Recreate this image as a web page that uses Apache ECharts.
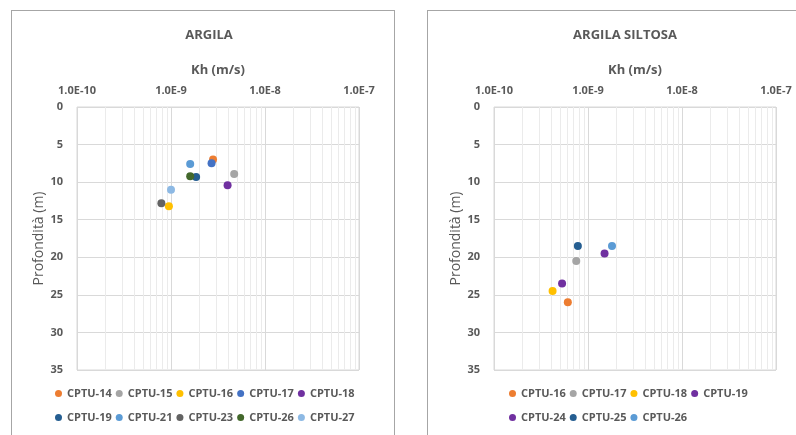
<!DOCTYPE html>
<html>
<head>
<meta charset="utf-8">
<script src="https://cdn.jsdelivr.net/npm/echarts@6/dist/echarts.min.js"></script>
<style>
  html, body { margin: 0; padding: 0; background: #fff; }
  body { width: 796px; height: 435px; position: relative; overflow: hidden; }
  .panel { position: absolute; top: 10px; height: 440px; border: 1px solid #a6a6a6; box-sizing: border-box; }
  .chart { position: absolute; top: 0; width: 398px; height: 435px; }
</style>
</head>
<body>
<div class="panel" style="left:11px; width:384px;"></div>
<div class="panel" style="left:427px; width:390px;"></div>
<div id="left" class="chart" style="left:0;"></div>
<div id="right" class="chart" style="left:398px;"></div>
<script>
// ARGILA
const leftNames = ['CPTU-14', 'CPTU-15', 'CPTU-16', 'CPTU-17', 'CPTU-18', 'CPTU-19', 'CPTU-21', 'CPTU-23', 'CPTU-26', 'CPTU-27'];
const leftColors = ['#ED7D31', '#A5A5A5', '#FFC000', '#4472C4', '#7030A0', '#255E91', '#5B9BD5', '#636363', '#43682B', '#8DB9E4'];
const leftKh = [2.8e-9, 4.7e-9, 9.5e-10, 2.7e-9, 4.0e-9, 1.85e-9, 1.6e-9, 7.9e-10, 1.6e-9, 1.0e-9];
const leftDepth = [7.0, 8.9, 13.2, 7.5, 10.4, 9.3, 7.6, 12.8, 9.2, 11.0];

// ARGILA SILTOSA
const rightNames = ['CPTU-16', 'CPTU-17', 'CPTU-18', 'CPTU-19', 'CPTU-24', 'CPTU-25', 'CPTU-26'];
const rightColors = ['#ED7D31', '#A5A5A5', '#FFC000', '#7030A0', '#7030A0', '#255E91', '#5B9BD5'];
const rightKh = [6.1e-10, 7.5e-10, 4.2e-10, 1.5e-9, 5.3e-10, 7.8e-10, 1.8e-9];
const rightDepth = [26.0, 20.5, 24.5, 19.5, 23.5, 18.5, 18.5];

// griglia secondaria log (2..9 per decade)
const minorKh = [];
[1e-10, 1e-9, 1e-8].forEach(d => {
    for (let m = 2; m <= 9; m++) minorKh.push(m * d);
});

const FONT = '"Open Sans", "Noto Sans", sans-serif';
const GREY = '#595959';

const buildOption = (title, titleX, gridLeft, names, colors, kh, depth, rowSize, legendLeft) => {
    const series = names.map((name, i) => ({
        name: name,
        type: 'scatter',
        symbolSize: 8,
        itemStyle: { color: colors[i], opacity: 1 },
        data: [[kh[i], depth[i]]],
        z: 3
    }));
    // linee verticali secondarie (custom, posizione dalla scala dell'asse)
    series.push({
        type: 'custom',
        silent: true,
        z: 1,
        data: minorKh.map(v => [v, 0]),
        encode: { x: 0, y: 1 },
        renderItem: (params, api) => {
            const x = Math.round(api.coord([api.value(0), 0])[0]) + 0.5;
            const cs = params.coordSys;
            return {
                type: 'line',
                shape: { x1: x, y1: cs.y, x2: x, y2: cs.y + cs.height },
                style: { stroke: '#ebebeb', lineWidth: 1 }
            };
        }
    });

    const legendBase = {
        icon: 'circle',
        itemWidth: 7,
        itemHeight: 7,
        itemGap: 4,
        left: legendLeft,
        padding: 0,
        selectedMode: false,
        textStyle: { color: GREY, fontSize: 11, fontFamily: FONT, fontWeight: 'bold' }
    };

    return {
        animation: false,
        title: {
            text: title,
            left: titleX,
            top: 24,
            textAlign: 'center',
            textStyle: { color: GREY, fontSize: 13, fontWeight: 'bold', fontFamily: FONT }
        },
        legend: [
            Object.assign({}, legendBase, { top: 388, data: names.slice(0, rowSize) }),
            Object.assign({}, legendBase, { top: 412, data: names.slice(rowSize) })
        ],
        grid: {
            left: gridLeft,
            top: 107,
            width: 282,
            height: 263,
            show: true,
            borderColor: '#d9d9d9',
            borderWidth: 1
        },
        xAxis: {
            type: 'log',
            logBase: 10,
            min: 1e-10,
            max: 1e-7,
            interval: 1,
            position: 'top',
            name: 'Kh (m/s)',
            nameLocation: 'middle',
            nameGap: 30,
            nameTextStyle: { color: GREY, fontSize: 13, fontWeight: 'bold', fontFamily: FONT },
            axisLine: { show: false },
            axisTick: { show: false },
            axisLabel: {
                color: GREY,
                fontSize: 11,
                fontWeight: 'bold',
                fontFamily: FONT,
                margin: 11,
                formatter: v => v.toExponential(1).toUpperCase()
            },
            splitLine: { show: true, lineStyle: { color: '#d9d9d9', width: 1 } }
        },
        yAxis: {
            type: 'value',
            inverse: true,
            min: 0,
            max: 35,
            interval: 5,
            name: 'Profondità (m)',
            nameLocation: 'middle',
            nameGap: 31,
            nameMoveOverlap: false,
            nameTextStyle: { color: GREY, fontSize: 14, fontFamily: FONT },
            axisLine: { show: false },
            axisTick: { show: false },
            axisLabel: { color: GREY, fontSize: 11, fontWeight: 'bold', fontFamily: FONT, margin: 14 },
            splitLine: { show: true, lineStyle: { color: '#d9d9d9', width: 1 } }
        },
        series: series
    };
};

const leftChart = echarts.init(document.getElementById('left'));
leftChart.setOption(buildOption('ARGILA', 204, 77, leftNames, leftColors, leftKh, leftDepth, 5, 55));

const rightChart = echarts.init(document.getElementById('right'));
rightChart.setOption(buildOption('ARGILA SILTOSA', 222, 96, rightNames, rightColors, rightKh, rightDepth, 4, 111));
</script>
</body>
</html>
